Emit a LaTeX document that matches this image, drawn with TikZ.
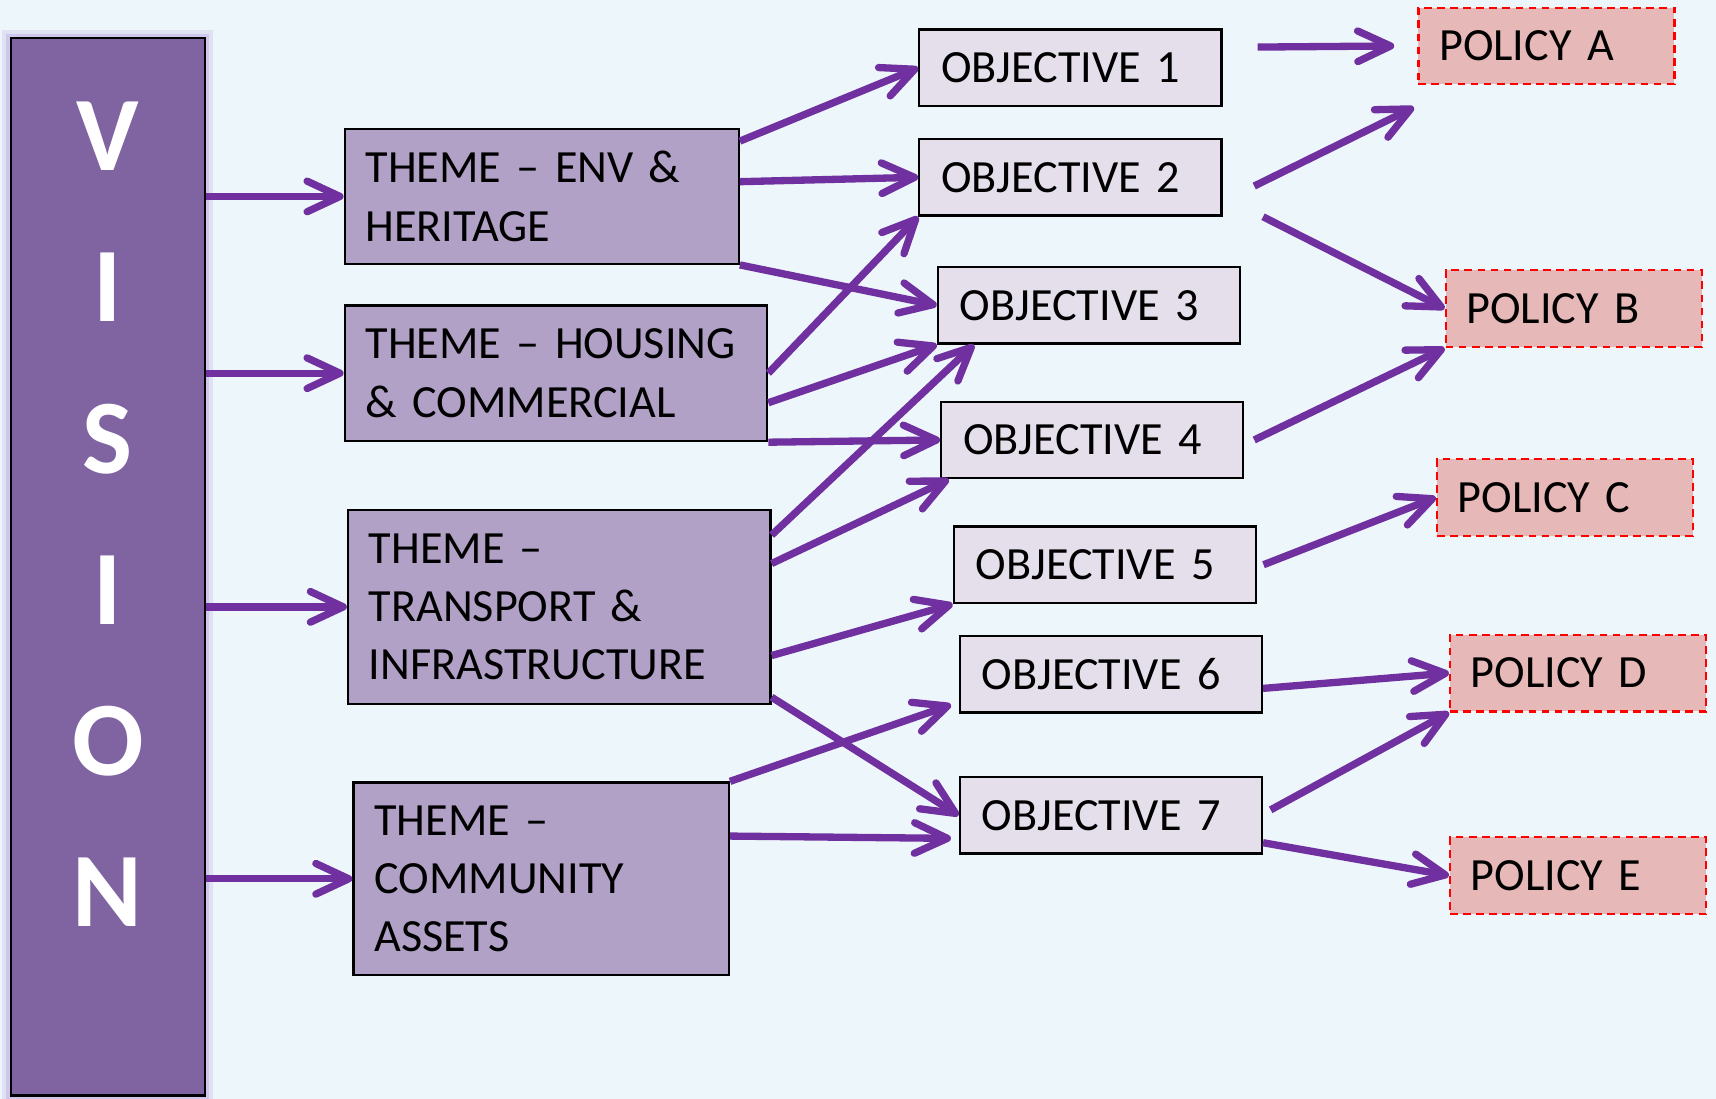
\documentclass[tikz,border=0pt]{standalone}
\usepackage{fontspec}
\setmainfont{Carlito}
\usepackage{tikz}
\usetikzlibrary{arrows.meta,positioning}
\usepackage{xcolor}
\definecolor{vpbg}{RGB}{237,246,250}
\definecolor{vpvision}{RGB}{128,100,162}
\definecolor{vpglow}{RGB}{176,150,222}
\definecolor{vptheme}{RGB}{178,161,199}
\definecolor{vpobjective}{RGB}{229,223,236}
\definecolor{vppolicy}{RGB}{230,184,183}
\definecolor{vparrow}{RGB}{112,48,160}
\tikzstyle{link} = [->,>={Straight Barb[length=3mm,width=2.8mm,round]},line width=1.9pt,color=vparrow]

\begin{document}
\begin{tikzpicture}[
    boxfont/.style={font=\fontsize{12}{15.2}\selectfont},
    vision/.style={rectangle, draw=black, line width=0.6pt, fill=vpvision, minimum width=1.77cm, minimum height=9.66cm, inner sep=0pt,
        preaction={draw=vpglow, line width=4.5pt, opacity=0.2}, preaction={draw=vpglow, line width=2.5pt, opacity=0.35}},
    theme/.style={rectangle, draw=black, line width=0.6pt, fill=vptheme, inner xsep=0.19cm, inner ysep=0pt, align=left, boxfont},
    objective/.style={rectangle, draw=black, line width=0.6pt, fill=vpobjective, minimum height=0.7cm, text width=2.36cm, inner xsep=0.2cm, inner ysep=0pt, align=left, boxfont},
    policy/.style={rectangle, draw=red, line width=0.6pt, dash pattern=on 2pt off 1.4pt, fill=vppolicy, minimum height=0.7cm, text width=1.96cm, inner xsep=0.19cm, inner ysep=0pt, align=left, boxfont}
]
% Background
\useasboundingbox (0,0) rectangle (15.68,-10.04);
\fill[vpbg] (0,0) rectangle (15.68,-10.04);

% Vision column
\node (vision) [vision] at (0.985,-5.18) {};
\node (visionword) [text=white, align=center, font=\fontsize{27.5}{39.3}\bfseries\selectfont] at (0.985,-4.70) {V\\I\\S\\I\\O\\N};

% Themes
\node (t1) [theme, text width=3.22cm, minimum height=1.23cm] at (4.95,-1.795) {THEME – ENV \&\\HERITAGE};
\node (t2) [theme, text width=3.48cm, minimum height=1.24cm] at (5.08,-3.41) {THEME – HOUSING\\\& COMMERCIAL};
\node (t3) [theme, text width=3.48cm, minimum height=1.77cm] at (5.11,-5.545) {THEME –\\TRANSPORT \&\\INFRASTRUCTURE};
\node (t4) [theme, text width=3.05cm, minimum height=1.76cm] at (4.945,-8.03) {THEME –\\COMMUNITY\\ASSETS};

% Objectives
\node (o1) [objective] at (9.78,-0.62) {OBJECTIVE 1};
\node (o2) [objective] at (9.78,-1.62) {OBJECTIVE 2};
\node (o3) [objective] at (9.95,-2.79) {OBJECTIVE 3};
\node (o4) [objective] at (9.98,-4.02) {OBJECTIVE 4};
\node (o5) [objective] at (10.095,-5.16) {OBJECTIVE 5};
\node (o6) [objective] at (10.15,-6.16) {OBJECTIVE 6};
\node (o7) [objective] at (10.15,-7.45) {OBJECTIVE 7};

% Policies
\node (pa) [policy] at (14.13,-0.42) {POLICY A};
\node (pb) [policy] at (14.38,-2.82) {POLICY B};
\node (pc) [policy] at (14.30,-4.545) {POLICY C};
\node (pd) [policy] at (14.42,-6.15) {POLICY D};
\node (pe) [policy] at (14.42,-8.00) {POLICY E};

% Vision to themes
\draw[link] (vision.east |- t1) -- (t1.west);
\draw[link] (vision.east |- t2) -- (t2.west);
\draw[link] (vision.east |- t3) -- (t3.west);
\draw[link] (vision.east |- t4) -- (t4.west);

% Themes to objectives
\draw[link] ([yshift=-0.12cm]t1.north east) -- (o1.west);
\draw[link] ([yshift=0.135cm]t1.east) -- (o2.west);
\draw[link] (t1.south east) -- (o3.west);
\draw[link] (t2.east) -- (o2.south west);
\draw[link] ([yshift=-0.27cm]t2.east) -- (o3.south west);
\draw[link] (t2.south east) -- (o4.west);
\draw[link] ([yshift=-0.24cm]t3.north east) -- ([xshift=0.34cm]o3.south west);
\draw[link] ([yshift=-0.5cm]t3.north east) -- ([xshift=0.08cm]o4.south west);
\draw[link] ([yshift=-0.445cm]t3.east) -- (o5.south west);
\draw[link] ([yshift=0.07cm]t3.south east) -- (o7.west);
\draw[link] (t4.north east) -- ([shift={(-0.07,0.08)}]o6.south west);
\draw[link] ([yshift=-0.5cm]t4.north east) -- ([shift={(-0.07,0.15)}]o7.south west);

% Objectives to policies
\draw[link] ([shift={(0.32,0.19)}]o1.east) -- ([xshift=-0.21cm]pa.west);
\draw[link] ([shift={(0.29,-0.08)}]o2.east) -- ([shift={(-0.03,-0.2)}]pa.south west);
\draw[link] ([xshift=0.37cm]o2.south east) -- (pb.west);
\draw[link] ([xshift=0.09cm]o4.east) -- (pb.south west);
\draw[link] ([xshift=0.06cm]o5.east) -- (pc.west);
\draw[link] ([yshift=-0.13cm]o6.east) -- (pd.west);
\draw[link] ([shift={(0.07,0.05)}]o7.east) -- (pd.south west);
\draw[link] ([yshift=-0.25cm]o7.east) -- (pe.west);
\end{tikzpicture}
\end{document}
